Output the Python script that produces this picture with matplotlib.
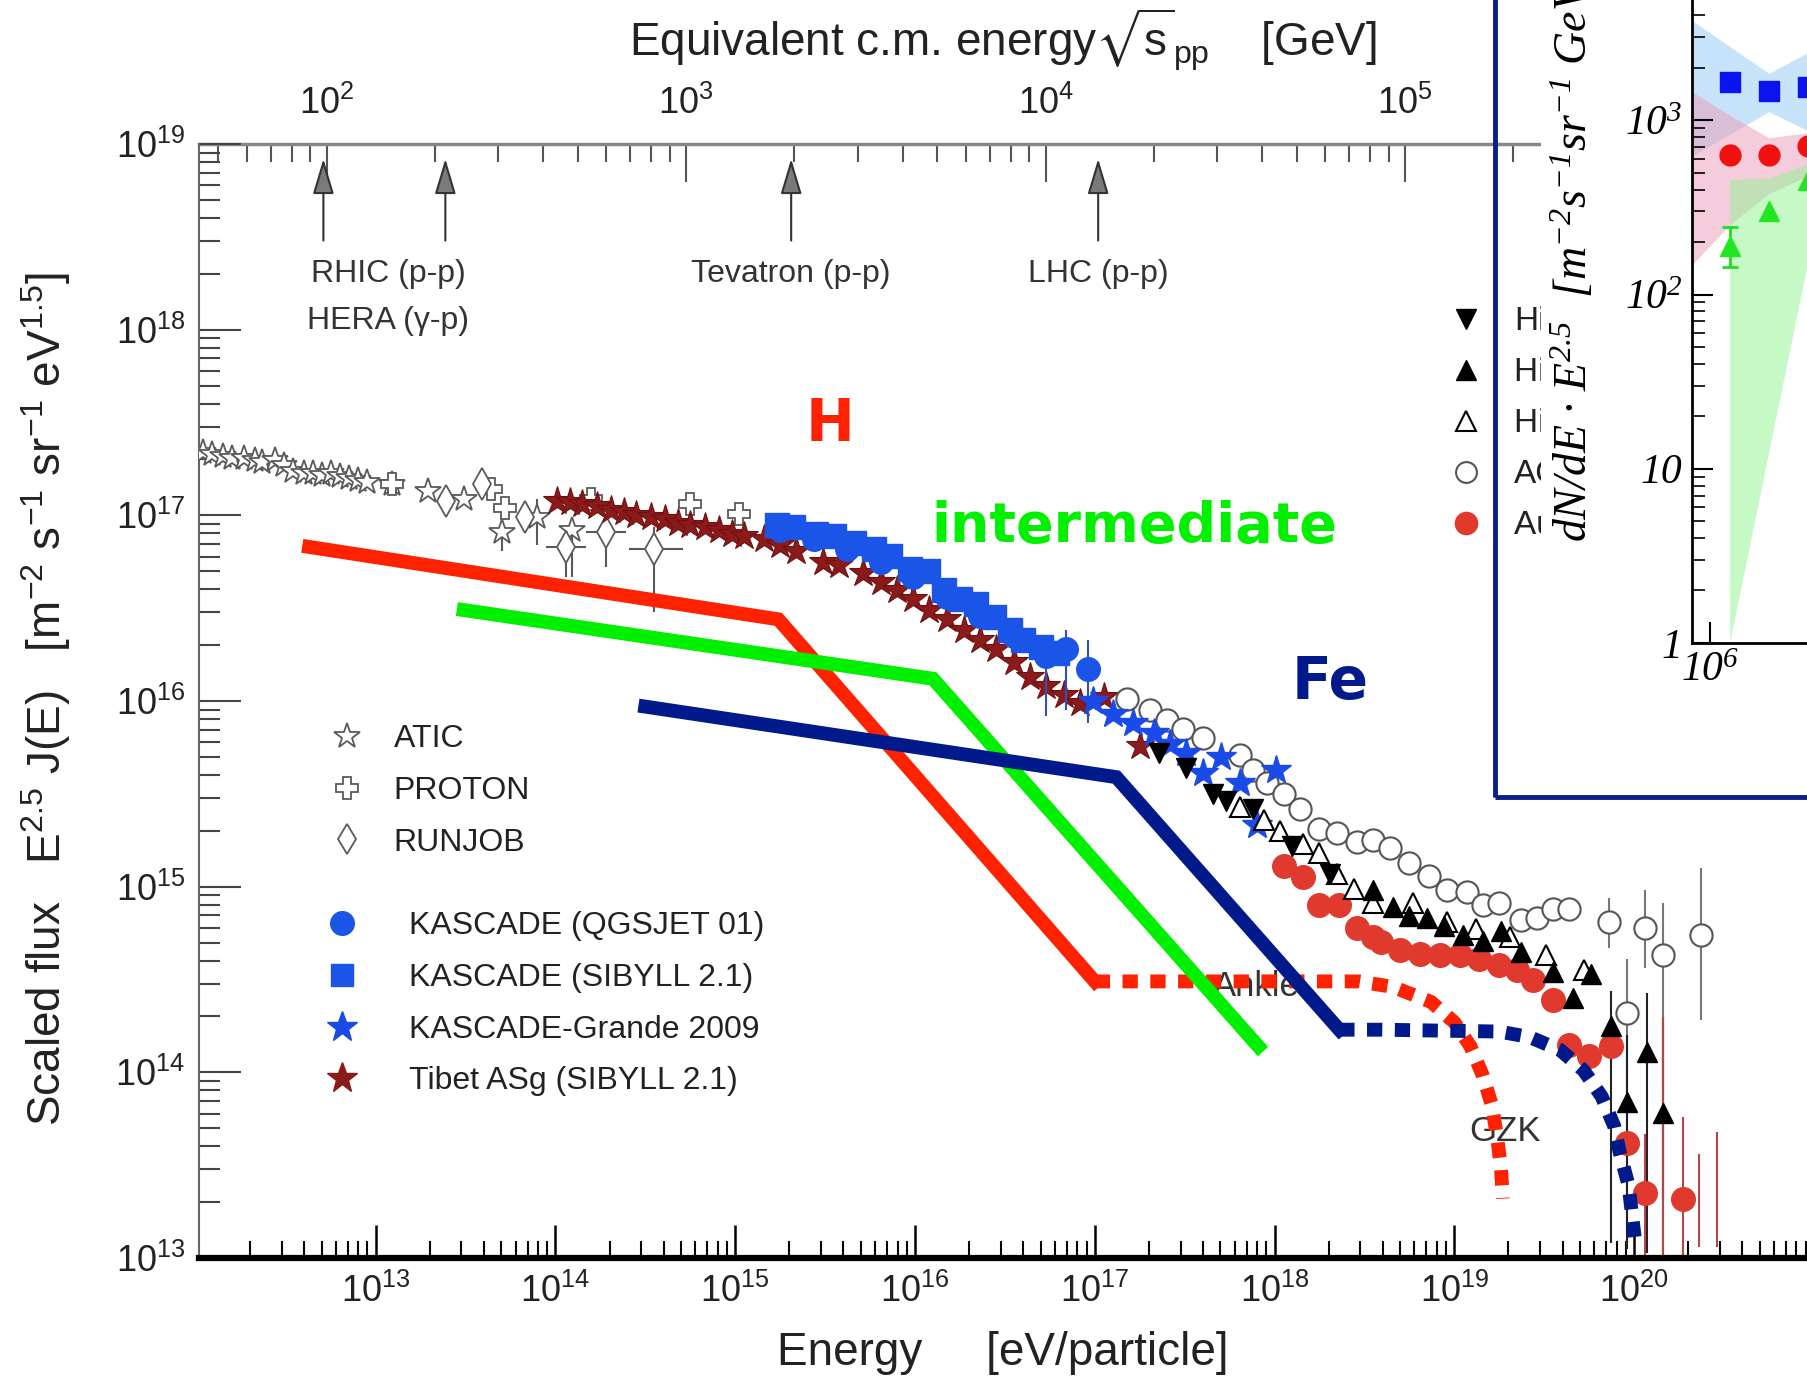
import numpy as np
import matplotlib
matplotlib.use('Agg')
import matplotlib.pyplot as plt
from matplotlib.lines import Line2D
from matplotlib.patches import Rectangle
from matplotlib.ticker import LogLocator, FixedLocator, NullLocator, NullFormatter

plt.rcParams['font.family'] = ['Liberation Sans', 'DejaVu Sans']
plt.rcParams['mathtext.default'] = 'regular'
plt.rcParams['mathtext.fontset'] = 'stix'

# ---- values (log10 of energy [eV] and of scaled flux) ----
atic_le = [12.04, 12.09, 12.15, 12.20, 12.27, 12.33, 12.37, 12.44, 12.49, 12.54, 12.60, 12.65,
           12.70, 12.75, 12.80, 12.85, 12.90, 12.95, 13.09, 13.29, 13.49, 13.70, 13.90, 14.09]
atic_lf = [17.34, 17.33, 17.32, 17.31, 17.31, 17.30, 17.29, 17.30, 17.27, 17.24, 17.23, 17.23,
           17.22, 17.23, 17.21, 17.20, 17.19, 17.18, 17.17, 17.13, 17.09, 16.91, 16.99, 16.92]
atic_bar_le = [13.70, 13.90, 14.09]
atic_bar_lo = [16.81, 16.84, 16.67]
atic_bar_hi = [16.98, 17.09, 16.98]

proton_le = [13.09, 13.64, 13.72, 14.20, 14.75, 15.02]
proton_lf = [17.17, 17.14, 17.04, 17.09, 17.06, 17.01]

runjob_le = [13.39, 13.59, 13.83, 14.06, 14.28, 14.55]
runjob_lf = [17.08, 17.17, 16.99, 16.83, 16.91, 16.82]
runjob_bar_le = [14.06, 14.28, 14.55]
runjob_bar_lf = [16.83, 16.91, 16.82]
runjob_bar_xlo = [13.95, 14.17, 14.41]
runjob_bar_xhi = [14.17, 14.39, 14.71]
runjob_bar_ylo = [16.67, 16.72, 16.48]
runjob_bar_yhi = [16.92, 16.99, 16.94]

tibet_le = [14.01, 14.08, 14.15, 14.23, 14.31, 14.38, 14.45, 14.53, 14.61, 14.68, 14.75, 14.83,
            14.91, 14.98, 15.05, 15.16, 15.25, 15.34, 15.49, 15.58, 15.71, 15.81, 15.90, 15.99,
            16.08, 16.18, 16.27, 16.36, 16.45, 16.55, 16.64, 16.73, 16.83, 16.92, 17.05, 17.25]
tibet_lf = [17.08, 17.07, 17.06, 17.05, 17.03, 17.02, 17.00, 16.99, 16.98, 16.96, 16.95, 16.94,
            16.92, 16.90, 16.89, 16.87, 16.84, 16.81, 16.75, 16.73, 16.69, 16.64, 16.60, 16.55,
            16.49, 16.44, 16.38, 16.33, 16.28, 16.21, 16.13, 16.08, 16.03, 15.99, 16.02, 15.76]

kas_sib_le = [15.23, 15.32, 15.45, 15.55, 15.66, 15.77, 15.86, 15.97, 16.07, 16.16, 16.25,
              16.34, 16.44, 16.53, 16.60, 16.70, 16.79]
kas_sib_lf = [16.95, 16.94, 16.90, 16.89, 16.85, 16.82, 16.78, 16.71, 16.70, 16.60, 16.55,
              16.52, 16.45, 16.38, 16.33, 16.29, 16.26]

kas_qgs_le = [15.25, 15.44, 15.62, 15.81, 15.99, 16.18, 16.36, 16.55, 16.73, 16.84, 16.96]
kas_qgs_lf = [16.92, 16.87, 16.82, 16.75, 16.67, 16.56, 16.46, 16.35, 16.24, 16.28, 16.17]
kas_bar_le = [16.73, 16.84, 16.96]
kas_bar_lo = [15.92, 15.95, 15.88]
kas_bar_hi = [16.35, 16.38, 16.33]

kg_le = [16.99, 17.10, 17.21, 17.33, 17.42, 17.51, 17.60, 17.70, 17.81, 17.90, 18.01]
kg_lf = [16.00, 15.93, 15.88, 15.83, 15.77, 15.72, 15.61, 15.70, 15.56, 15.33, 15.63]

mia_le = [17.36, 17.51, 17.66, 17.73, 17.88, 18.10, 18.31]
mia_lf = [15.72, 15.64, 15.50, 15.46, 15.42, 15.22, 15.07]

hires1_le = [18.55, 18.66, 18.75, 18.85, 18.94, 19.05, 19.16, 19.26, 19.37, 19.55, 19.66,
             19.76, 19.87, 19.96, 20.07, 20.16]
hires1_lf = [14.98, 14.89, 14.84, 14.83, 14.79, 14.74, 14.71, 14.76, 14.65, 14.54, 14.40,
             14.53, 14.25, 13.84, 14.11, 13.78]
hires1_bar_le = [19.87, 19.96, 20.07, 20.16]
hires1_bar_lo = [13.08, 13.05, 13.03, 13.03]
hires1_bar_hi = [14.44, 14.20, 14.43, 14.30]

hires2_le = [17.81, 17.94, 18.03, 18.16, 18.25, 18.35, 18.44, 18.55, 18.77, 18.96, 19.12,
             19.31, 19.51, 19.72]
hires2_lf = [15.43, 15.36, 15.30, 15.23, 15.18, 15.07, 14.99, 14.91, 14.91, 14.81, 14.77,
             14.73, 14.63, 14.55]

agasa_le = [17.18, 17.31, 17.40, 17.49, 17.60, 17.81, 17.88, 17.96, 18.05, 18.14, 18.25,
            18.35, 18.46, 18.55, 18.64, 18.75, 18.86, 18.96, 19.07, 19.16, 19.25, 19.37,
            19.46, 19.55, 19.64, 19.86, 19.96, 20.06, 20.16, 20.37]
agasa_lf = [16.01, 15.95, 15.90, 15.85, 15.80, 15.71, 15.63, 15.56, 15.50, 15.42, 15.31,
            15.29, 15.24, 15.25, 15.21, 15.13, 15.06, 14.98, 14.97, 14.90, 14.91, 14.82,
            14.83, 14.88, 14.88, 14.81, 14.32, 14.78, 14.63, 14.74]
agasa_bar_le = [19.86, 19.96, 20.06, 20.16, 20.37]
agasa_bar_lo = [14.67, 13.06, 14.56, 13.30, 14.28]
agasa_bar_hi = [14.94, 14.61, 14.98, 14.91, 15.10]

auger_le = [18.05, 18.16, 18.25, 18.36, 18.46, 18.55, 18.59, 18.70, 18.81, 18.92, 19.03,
            19.14, 19.25, 19.35, 19.44, 19.55, 19.64, 19.75, 19.87, 19.96, 20.06, 20.27]
auger_lf = [15.11, 15.05, 14.90, 14.90, 14.78, 14.73, 14.70, 14.66, 14.64, 14.63, 14.63,
            14.61, 14.58, 14.55, 14.50, 14.39, 14.15, 14.09, 14.14, 13.62, 13.35, 13.32]
auger_bar_le = [20.06, 20.16, 20.27, 20.36, 20.46]
auger_bar_lo = [13.00, 13.00, 13.00, 13.06, 13.06]
auger_bar_hi = [13.67, 14.30, 13.76, 13.56, 13.68]

# model components
h_le = [12.63, 15.24, 17.00]
h_lf = [16.83, 16.44, 14.49]
h_tail_le = [17.00, 18.00, 18.47, 18.66, 18.87, 19.00, 19.09, 19.16, 19.21, 19.24, 19.26, 19.27]
h_tail_lf = [14.49, 14.49, 14.49, 14.46, 14.38, 14.27, 14.14, 13.98, 13.82, 13.64, 13.48, 13.32]
mid_le = [13.49, 16.10, 17.91]
mid_lf = [16.49, 16.12, 14.14]
fe_le = [14.50, 17.12, 18.36]
fe_lf = [15.97, 15.59, 14.23]
fe_tail_le = [18.36, 18.59, 19.25, 19.42, 19.59, 19.72, 19.82, 19.89, 19.92, 19.97, 19.99, 20.01]
fe_tail_lf = [14.23, 14.23, 14.22, 14.19, 14.12, 14.01, 13.87, 13.71, 13.57, 13.39, 13.22, 13.06]

# colliders on the top axis (sqrt(s) in GeV)
collider_sqrts = [98, 214, 1960, 14000]

# inset (log10 E [GeV], log10 flux)
ins_le = [6.1, 6.3, 6.5]
ins_blue = [3.22, 3.17, 3.19]
ins_red = [2.80, 2.80, 2.85]
ins_green = [2.28, 2.48, 2.66]
ins_green_err = [2.16, 2.39]
band_blue_le = [5.90, 6.30, 6.50]
band_blue_hi = [3.58, 3.27, 3.39]
band_blue_lo = [2.79, 3.05, 2.94]
band_pink_le = [5.90, 6.10, 6.30, 6.50]
band_pink_hi = [3.17, 3.03, 2.90, 2.93]
band_pink_lo = [2.16, 2.40, 2.58, 2.68]
band_green_le = [6.10, 6.30, 6.50]
band_green_hi = [2.66, 2.67, 2.75]
band_green_lo = [0.00, 1.10, 2.20]


def p(v):
    return 10.0 ** np.asarray(v, dtype=float)


def e_to_sqrts(e):
    e = np.clip(np.asarray(e, dtype=float), 1e-30, None)
    return np.sqrt(2 * 0.938 * e / 1e9)


def sqrts_to_e(s):
    s = np.asarray(s, dtype=float)
    return s ** 2 / (2 * 0.938) * 1e9


fig = plt.figure(figsize=(18.07, 13.86), dpi=100)
ax = fig.add_axes([0.1103, 0.0923, 0.8897, 0.8038])
ax.set_xscale('log')
ax.set_yscale('log')
ax.set_xlim(10 ** 12.019, 10 ** 20.962)
ax.set_ylim(1e13, 1e19)

grey = '#5a5a5a'
# low energy direct measurements
ax.vlines(p(atic_bar_le), p(atic_bar_lo), p(atic_bar_hi), color=grey, lw=1.5, zorder=2)
ax.plot(p(atic_le), p(atic_lf), ls='none', marker='*', ms=19, mfc='white', mec=grey, mew=1.3, zorder=3)
ax.plot(p(proton_le), p(proton_lf), ls='none', marker='P', ms=16, mfc='white', mec=grey, mew=1.3, zorder=3)
ry = p(runjob_bar_lf)
rx = p(runjob_bar_le)
ax.errorbar(rx, ry, xerr=[rx - p(runjob_bar_xlo), p(runjob_bar_xhi) - rx],
            yerr=[ry - p(runjob_bar_ylo), p(runjob_bar_yhi) - ry],
            fmt='none', ecolor=grey, elinewidth=1.5, zorder=2)
ax.plot(p(runjob_le), p(runjob_lf), ls='none', marker='d', ms=16, mfc='white', mec=grey, mew=1.3, zorder=3)

# air shower data
ax.plot(p(tibet_le), p(tibet_lf), ls='none', marker='*', ms=21, mfc='#8b1a1a', mec='#6e1010', mew=0.8, zorder=3)
ax.vlines(p(kas_bar_le), p(kas_bar_lo), p(kas_bar_hi), color='#3050c0', lw=1.5, zorder=3)
ax.plot(p(kas_sib_le), p(kas_sib_lf), ls='none', marker='s', ms=17, mfc='#1a55e8', mec='#1a55e8', zorder=4)
ax.plot(p(kas_qgs_le), p(kas_qgs_lf), ls='none', marker='o', ms=17, mfc='#1a55e8', mec='#1a55e8', zorder=4)
ax.plot(p(kg_le), p(kg_lf), ls='none', marker='*', ms=22, mfc='#1a4be8', mec='#1a4be8', zorder=4)

ax.vlines(p(agasa_bar_le), p(agasa_bar_lo), p(agasa_bar_hi), color='#777777', lw=1.5, zorder=2)
ax.vlines(p(hires1_bar_le), p(hires1_bar_lo), p(hires1_bar_hi), color='#222222', lw=1.5, zorder=2)
ax.vlines(p(auger_bar_le), p(auger_bar_lo), p(auger_bar_hi), color='#b04848', lw=1.5, zorder=2)
ax.plot(p(agasa_le), p(agasa_lf), ls='none', marker='o', ms=16, mfc='white', mec='#555555', mew=1.5, zorder=3)
ax.plot(p(auger_le), p(auger_lf), ls='none', marker='o', ms=17, mfc='#e03a2e', mec='#e03a2e', zorder=3)
ax.plot(p(hires2_le), p(hires2_lf), ls='none', marker='^', ms=15, mfc='white', mec='black', mew=1.5, zorder=4)
ax.plot(p(hires1_le), p(hires1_lf), ls='none', marker='^', ms=15, mfc='black', mec='black', zorder=4)
ax.plot(p(mia_le), p(mia_lf), ls='none', marker='v', ms=15, mfc='black', mec='black', zorder=4)

# model lines
red, green, navy = '#ff2200', '#00f000', '#001a8c'
ax.plot(p(h_le), p(h_lf), color=red, lw=10, solid_joinstyle='miter', zorder=6)
ax.plot(p(h_tail_le), p(h_tail_lf), color=red, lw=10, ls=(0, (1.1, 0.9)), dash_capstyle='butt', zorder=6)
ax.plot(p(mid_le), p(mid_lf), color=green, lw=10, solid_joinstyle='miter', zorder=6)
ax.plot(p(fe_le), p(fe_lf), color=navy, lw=10, solid_joinstyle='miter', zorder=6)
ax.plot(p(fe_tail_le), p(fe_tail_lf), color=navy, lw=10, ls=(0, (1.1, 0.9)), dash_capstyle='butt', zorder=6)

# labels inside plot
ax.text(10 ** 17.90, 10 ** 14.46, 'Ankle', fontsize=25, color='#333333', ha='center', va='center', zorder=2)
ax.text(10 ** 19.28, 10 ** 13.68, 'GZK', fontsize=25, color='#333333', ha='center', va='center', zorder=2)
comic = dict(family='DejaVu Sans', weight='bold', ha='center', va='center', zorder=7)
ax.text(10 ** 15.53, 10 ** 17.49, 'H', fontsize=42, color=red, **comic)
ax.text(10 ** 17.22, 10 ** 16.94, 'intermediate', fontsize=40, color=green, **comic)
ax.text(10 ** 18.31, 10 ** 16.10, 'Fe', fontsize=42, color=navy, **comic)

# collider arrows
collider_e = sqrts_to_e(collider_sqrts)
for e in collider_e:
    ax.annotate('', xy=(e, 10 ** 18.92), xytext=(e, 10 ** 18.48),
                arrowprops=dict(arrowstyle='-|>,head_length=1.1,head_width=0.33', mutation_scale=20,
                                color='#333333', fc='#7a7a7a', lw=1.5, shrinkA=0, shrinkB=0))
ax.text(10 ** 13.07, 10 ** 18.30, 'RHIC (p-p)', fontsize=23, color='#333333', ha='center', va='center')
ax.text(10 ** 13.07, 10 ** 18.045, 'HERA (\u03b3-p)', fontsize=23, color='#333333', ha='center', va='center')
ax.text(collider_e[2], 10 ** 18.30, 'Tevatron (p-p)', fontsize=23, color='#333333', ha='center', va='center')
ax.text(collider_e[3], 10 ** 18.30, 'LHC (p-p)', fontsize=23, color='#333333', ha='center', va='center')

# axes styling
for s in ['top', 'right']:
    ax.spines[s].set_visible(False)
ax.spines['left'].set_color('#666666')
ax.spines['left'].set_linewidth(1.5)
ax.spines['bottom'].set_color('black')
ax.spines['bottom'].set_linewidth(4.5)
ax.xaxis.set_major_locator(LogLocator(base=10, numticks=30))
ax.xaxis.set_minor_locator(LogLocator(base=10, subs=np.arange(2, 10), numticks=100))
ax.yaxis.set_major_locator(LogLocator(base=10, numticks=30))
ax.yaxis.set_minor_locator(LogLocator(base=10, subs=np.arange(2, 10), numticks=100))
ax.tick_params(axis='x', which='major', direction='in', length=24, width=1.8, color='black',
               labelsize=26, pad=11, labelcolor='#222222', top=False)
ax.tick_params(axis='x', which='minor', direction='in', length=12, width=1.5, color='black', top=False)
ax.tick_params(axis='y', which='major', direction='in', length=30, width=1.5, color='#444444',
               labelsize=26, pad=10, labelcolor='#222222', right=False)
ax.tick_params(axis='y', which='minor', direction='in', length=15, width=1.5, color='#444444', right=False)

sec = ax.secondary_xaxis('top', functions=(e_to_sqrts, sqrts_to_e))
sec.xaxis.set_major_locator(LogLocator(base=10, numticks=30))
sec.xaxis.set_minor_locator(LogLocator(base=10, subs=np.arange(2, 10), numticks=100))
sec.tick_params(which='major', direction='in', length=27, width=1.5, color='#555555',
                labelsize=26, pad=16, labelcolor='#222222')
sec.tick_params(which='minor', direction='in', length=13, width=1.5, color='#555555')
for s in sec.spines.values():
    s.set_color('#888888')
    s.set_linewidth(2.5)

fig.text(0.5548, 0.9709, 'Equivalent c.m. energy$\\sqrt{s}_{pp}$    [GeV]', fontsize=33,
         color='#222222', ha='center', va='center')
fig.text(0.5548, 0.0235, 'Energy     [eV/particle]', fontsize=33, color='#222222', ha='center', va='center')
fig.text(0.0255, 0.4954, 'Scaled flux   E$^{2.5}$ J(E)   [m$^{-2}$ s$^{-1}$ sr$^{-1}$ eV$^{1.5}$]',
         fontsize=33, color='#222222', rotation=90, ha='center', va='center')

# legends
leg_kw = dict(frameon=False, fontsize=23, borderpad=0, borderaxespad=0, handlelength=1.0,
              labelspacing=0.68, loc='upper left', bbox_transform=fig.transFigure, labelcolor='#222222')
h1 = [Line2D([], [], ls='none', marker='*', ms=19, mfc='white', mec=grey, mew=1.3),
      Line2D([], [], ls='none', marker='P', ms=16, mfc='white', mec=grey, mew=1.3),
      Line2D([], [], ls='none', marker='d', ms=15, mfc='white', mec=grey, mew=1.3)]
leg1 = ax.legend(h1, ['ATIC', 'PROTON', 'RUNJOB'], bbox_to_anchor=(0.1833, 0.4775),
                 handletextpad=0.95, **leg_kw)
ax.add_artist(leg1)
h2 = [Line2D([], [], ls='none', marker='o', ms=17, mfc='#1a55e8', mec='#1a55e8'),
      Line2D([], [], ls='none', marker='s', ms=16, mfc='#1a55e8', mec='#1a55e8'),
      Line2D([], [], ls='none', marker='*', ms=23, mfc='#1a4be8', mec='#1a4be8'),
      Line2D([], [], ls='none', marker='*', ms=23, mfc='#8b1a1a', mec='#8b1a1a')]
leg2 = ax.legend(h2, ['KASCADE (QGSJET 01)', 'KASCADE (SIBYLL 2.1)', 'KASCADE-Grande 2009',
                      'Tibet ASg (SIBYLL 2.1)'], bbox_to_anchor=(0.1802, 0.3425),
                 handletextpad=1.6, **leg_kw)
ax.add_artist(leg2)
h3 = [Line2D([], [], ls='none', marker='v', ms=15, mfc='black', mec='black'),
      Line2D([], [], ls='none', marker='^', ms=15, mfc='black', mec='black'),
      Line2D([], [], ls='none', marker='^', ms=15, mfc='white', mec='black', mew=1.5),
      Line2D([], [], ls='none', marker='o', ms=15, mfc='white', mec='#555555', mew=1.5),
      Line2D([], [], ls='none', marker='o', ms=16, mfc='#e03a2e', mec='#e03a2e')]
ax.legend(h3, ['HiRes-MIA', 'HiRes I', 'HiRes II', 'AGASA', 'Auger 2009'],
          bbox_to_anchor=(0.802, 0.779), handletextpad=0.95, **{**leg_kw, 'fontsize': 24,
                                                                 'labelspacing': 0.6})

# ---- inset ----
box = fig.add_axes([0.8527, 0.4264, 0.2, 0.6])
box.set_xticks([])
box.set_yticks([])
for s in box.spines.values():
    s.set_visible(False)
box.set_facecolor('white')

ins = fig.add_axes([0.9365, 0.5362, 0.2, 0.4638])
ins.set_xscale('log')
ins.set_yscale('log')
ins.set_xlim(10 ** 5.91, 10 ** 7.749)
ins.set_ylim(1, 10 ** 3.691)
ins.fill_between(p(band_blue_le), p(band_blue_lo), p(band_blue_hi), color='#91c9f5', alpha=0.5, lw=0)
ins.fill_between(p(band_pink_le), p(band_pink_lo), p(band_pink_hi), color='#eb9bb9', alpha=0.5, lw=0)
ins.fill_between(p(band_green_le), p(band_green_lo), p(band_green_hi), color='#91f591', alpha=0.5, lw=0)
ins.plot(p(ins_le), p(ins_blue), ls='none', marker='s', ms=15, color='#0a14f0', clip_on=False)
ins.plot(p(ins_le), p(ins_red), ls='none', marker='o', ms=15, color='#f01010', clip_on=False)
ins.errorbar(p(ins_le[:1]), p(ins_green[:1]),
             yerr=[p(ins_green[:1]) - p(ins_green_err[:1]), p(ins_green_err[1:]) - p(ins_green[:1])],
             fmt='none', ecolor='#22dd22', elinewidth=2, capsize=6, capthick=2)
ins.plot(p(ins_le), p(ins_green), ls='none', marker='^', ms=15, color='#22e622')
for s in ['top', 'right']:
    ins.spines[s].set_visible(False)
for s in ['left', 'bottom']:
    ins.spines[s].set_color('black')
    ins.spines[s].set_linewidth(2)
ins.yaxis.set_major_locator(FixedLocator([1, 10, 100, 1000]))
ins.yaxis.set_minor_locator(LogLocator(base=10, subs=np.arange(2, 10), numticks=20))
ins.yaxis.set_minor_formatter(NullFormatter())
ins.set_yticklabels(['1', '10', '$10^{2}$', '$10^{3}$'], fontfamily='Liberation Serif',
                    fontstyle='italic', fontsize=30)
ins.xaxis.set_major_locator(FixedLocator([1e6, 1e7]))
ins.xaxis.set_minor_locator(NullLocator())
ins.set_xticklabels(['$10^{6}$', '$10^{7}$'], fontfamily='Liberation Serif', fontstyle='italic', fontsize=30)
ins.tick_params(axis='y', which='major', direction='in', length=15, width=1.5, pad=7)
ins.tick_params(axis='y', which='minor', direction='in', length=9, width=1.2)
ins.tick_params(axis='x', which='major', direction='in', length=15, width=1.5, pad=6)

fig.text(0.8712, 0.609, 'dN/dE \u00b7 E$^{2.5}$  [m$^{-2}$s$^{-1}$sr$^{-1}$ GeV$^{1.5}$]',
         fontfamily='Liberation Serif', fontstyle='italic', fontsize=33, rotation=90,
         ha='center', va='bottom', color='black')

fig.add_artist(Rectangle((0.8272, 0.4248), 0.3, 0.7, transform=fig.transFigure, fill=False,
                         ec='#0a1e8c', lw=3.5, zorder=20))

fig.savefig('out.png', dpi=100, facecolor='white')
